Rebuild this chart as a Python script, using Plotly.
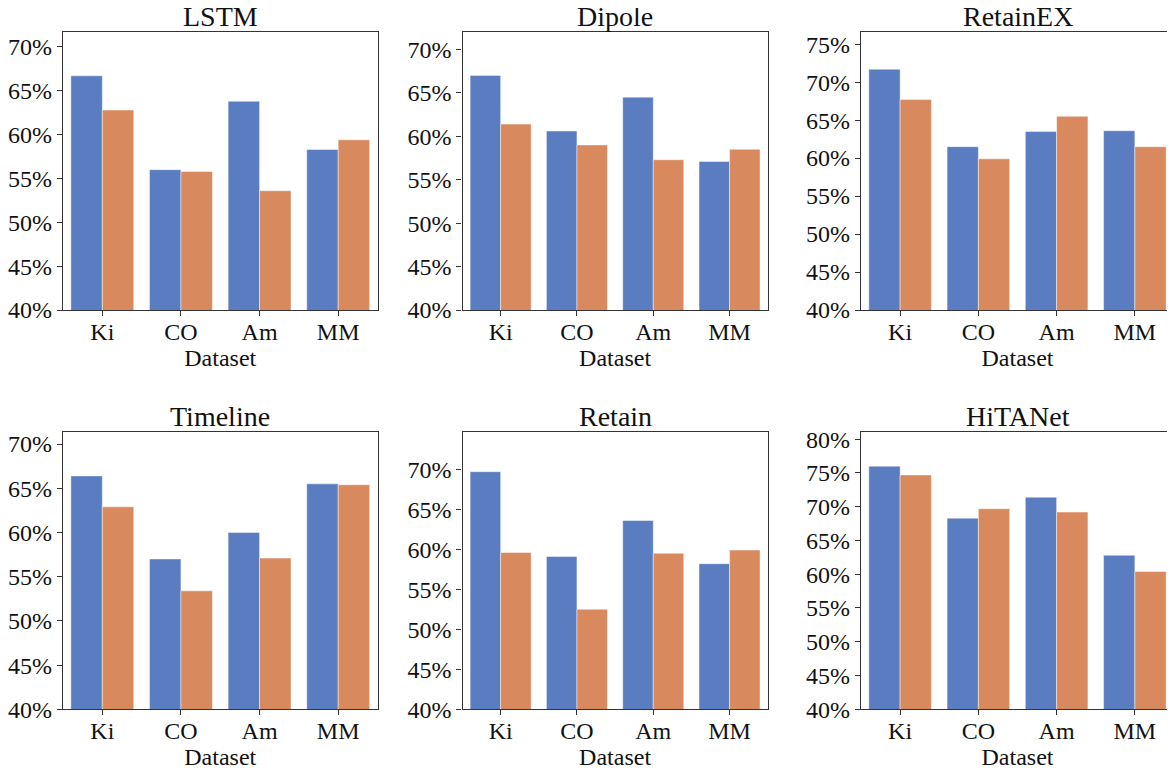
import plotly.graph_objects as go

datasets = ["Ki", "CO", "Am", "MM"]
models = ["LSTM", "Dipole", "RetainEX", "Timeline", "Retain", "HiTANet"]

# series values (%) per model: first (blue) and second (orange) series
blue_vals = {
    "LSTM":     [66.7, 56.0, 63.8, 58.3],
    "Dipole":   [67.0, 60.6, 64.5, 57.1],
    "RetainEX": [71.7, 61.5, 63.5, 63.6],
    "Timeline": [66.4, 57.0, 60.0, 65.5],
    "Retain":   [69.7, 59.1, 63.6, 58.2],
    "HiTANet":  [76.0, 68.3, 71.4, 62.8],
}
orange_vals = {
    "LSTM":     [62.8, 55.8, 53.6, 59.4],
    "Dipole":   [61.4, 59.0, 57.3, 58.5],
    "RetainEX": [67.7, 59.9, 65.5, 61.5],
    "Timeline": [62.9, 53.4, 57.1, 65.4],
    "Retain":   [59.6, 52.5, 59.5, 59.9],
    "HiTANet":  [74.7, 69.7, 69.2, 60.4],
}
y_bottom = 40
y_top = {"LSTM": 71.7, "Dipole": 72.0, "RetainEX": 76.6,
         "Timeline": 71.4, "Retain": 74.7, "HiTANet": 81.1}

# page body has an 8px margin, so the figure is drawn 8px in from the corner
OFF = 8
W, H = 1175 - OFF, 770 - OFF
col_px = [(63, 377.5), (462.5, 767.7), (861, 1174)]
row_px = [(32, 310), (431.7, 709.3)]

BLUE = "#5A7CC0"
ORANGE = "#D88A5E"
FONT = "Liberation Serif, Times New Roman, serif"
AX = "#333333"

fig = go.Figure()
layout = dict(
    width=W, height=H,
    margin=dict(l=0, r=0, t=0, b=0, autoexpand=False),
    paper_bgcolor="white", plot_bgcolor="white",
    showlegend=False, barmode="group", bargap=0.2, bargroupgap=0,
    font=dict(family=FONT, color="#111111", size=24),
)
annotations = []
for i, m in enumerate(models):
    r, c = divmod(i, 3)
    n = i + 1
    xa = "x" if n == 1 else f"x{n}"
    ya = "y" if n == 1 else f"y{n}"
    fig.add_trace(go.Bar(x=datasets, y=blue_vals[m], marker_color=BLUE,
                         marker_line=dict(color="rgba(255,255,255,0.45)", width=1),
                         xaxis=xa, yaxis=ya, offsetgroup="a"))
    fig.add_trace(go.Bar(x=datasets, y=orange_vals[m], marker_color=ORANGE,
                         marker_line=dict(color="rgba(255,255,255,0.45)", width=1),
                         xaxis=xa, yaxis=ya, offsetgroup="b"))
    x0, x1 = col_px[c]
    t0, t1 = row_px[r]
    xd = [(x0 - OFF) / W, (x1 - OFF) / W]
    yd = [1 - (t1 - OFF) / H, 1 - (t0 - OFF) / H]
    key_x = "xaxis" if n == 1 else f"xaxis{n}"
    key_y = "yaxis" if n == 1 else f"yaxis{n}"
    layout[key_x] = dict(
        domain=xd, anchor=ya, range=[-0.5, 3.5], type="category",
        automargin=False,
        showline=True, mirror=True, linecolor=AX, linewidth=1.2,
        ticks="outside", ticklen=5, tickwidth=1.2, tickcolor=AX,
        ticklabelstandoff=-5,
        showgrid=False, zeroline=False,
        tickfont=dict(family=FONT, size=24, color="#111111"),
        title=dict(text="Dataset", standoff=0,
                   font=dict(family=FONT, size=24, color="#111111")),
    )
    layout[key_y] = dict(
        domain=yd, anchor=xa, range=[y_bottom, y_top[m]],
        automargin=False,
        dtick=5, tick0=40, ticksuffix="%",
        showline=True, mirror=True, linecolor=AX, linewidth=1.2,
        ticks="outside", ticklen=5, tickwidth=1.2, tickcolor=AX,
        showgrid=False, zeroline=False,
        tickfont=dict(family=FONT, size=24, color="#111111"),
    )
    annotations.append(dict(
        text=m, xref="paper", yref="paper",
        x=(xd[0] + xd[1]) / 2, y=yd[1], xanchor="center", yanchor="bottom",
        yshift=-2, showarrow=False,
        font=dict(family=FONT, size=28, color="#111111"),
    ))
layout["annotations"] = annotations
fig.update_layout(**layout)
fig.write_html("out.html")
